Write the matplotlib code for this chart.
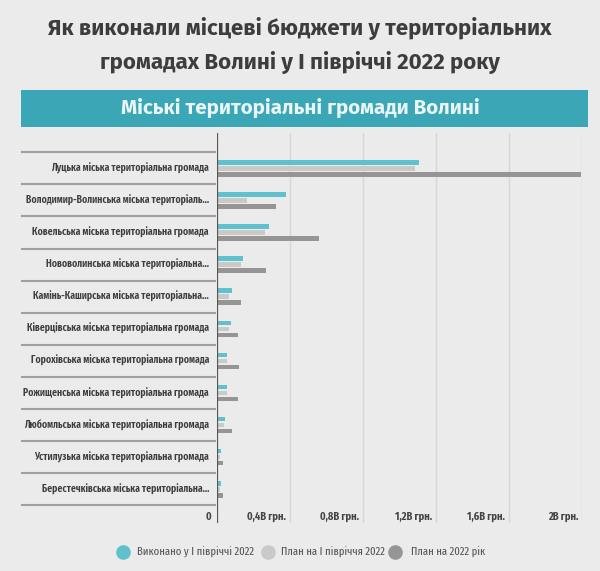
import numpy as np
import matplotlib
matplotlib.use("Agg")
import matplotlib.pyplot as plt
from matplotlib.lines import Line2D
from matplotlib.patches import Rectangle

COND = ['Fira Sans Condensed', 'DejaVu Sans']
XCOND = ['Fira Sans Extra Condensed', 'Fira Sans Condensed', 'DejaVu Sans']
WIDE = ['Fira Sans', 'DejaVu Sans']
plt.rcParams['font.family'] = COND

# data (billion UAH)
communities = [
    "Луцька міська територіальна громада",
    "Володимир-Волинська міська територіаль…",
    "Ковельська міська територіальна громада",
    "Нововолинська міська територіальна…",
    "Камінь-Каширська міська територіальна…",
    "Ківерцівська міська територіальна громада",
    "Горохівська міська територіальна громада",
    "Рожищенська міська територіальна громада",
    "Любомльська міська територіальна громада",
    "Устилузька міська територіальна громада",
    "Берестечківська міська територіальна…",
]
done_h1 = [1.107, 0.376, 0.287, 0.142, 0.080, 0.075, 0.055, 0.055, 0.046, 0.022, 0.020]
plan_h1 = [1.085, 0.166, 0.265, 0.133, 0.067, 0.064, 0.053, 0.053, 0.040, 0.014, 0.014]
plan_year = [1.995, 0.323, 0.557, 0.268, 0.133, 0.117, 0.122, 0.113, 0.084, 0.035, 0.035]
series_names = ["Виконано у І півріччі 2022", "План на І півріччя 2022", "План на 2022 рік"]
ticks = [0.4, 0.8, 1.2, 1.6, 2.0]
tick_labels = ["0,4B грн.", "0,8B грн.", "1,2B грн.", "1,6B грн.", "2B грн."]

bg = "#ebebeb"
colors = ["#5fc1cd", "#c9c9c9", "#959595"]
W, H = 600, 571

fig = plt.figure(figsize=(W/100, H/100), dpi=100, facecolor=bg)

# title
for yy, line in [(28, "Як виконали місцеві бюджети у територіальних"),
                 (63, "громадах Волині у І півріччі 2022 року")]:
    fig.text(0.5, 1 - yy/H, line, ha='center', va='center', fontsize=16,
             fontweight='bold', color='#3d3d3d', family=WIDE)

# banner
fig.patches.append(Rectangle((21/W, 1 - 127/H), 567/W, 37/H,
                             transform=fig.transFigure, facecolor="#3ba6b6",
                             edgecolor='none', zorder=0))
fig.text(0.5, 1 - 108/H, "Міські територіальні громади Волині",
         ha='center', va='center', fontsize=14.8, fontweight='bold',
         color='#eaf5f7', family=WIDE)

ax = fig.add_axes([217/W, (H - 523)/H, 365/W, 390/H])
ax.set_facecolor(bg)
n = len(communities)
y = np.arange(n)
h = 0.14
off = 0.187
ax.barh(y - off, done_h1, height=h, color=colors[0], zorder=3)
ax.barh(y, plan_h1, height=h, color=colors[1], zorder=3)
ax.barh(y + off, plan_year, height=h, color=colors[2], zorder=3)

ax.set_xlim(0, 2.0)
ax.set_ylim(11.05, -1.1)
for s in ax.spines.values():
    s.set_visible(False)
ax.set_xticks([])
ax.set_yticks([])

for t in ticks:
    ax.axvline(t, color="#d6d6d6", lw=1, zorder=1)
ax.axvline(0, color="#555555", lw=1.6, zorder=4)

# tick labels
ax.text(-0.03, 10.86, "0", ha='right', va='center', fontsize=7.5,
        fontweight='bold', color='#444444')
for t, lab in zip(ticks, tick_labels):
    ax.text(t - 0.02, 10.86, lab, ha='right', va='center', fontsize=7.5,
            fontweight='bold', color='#444444')

# row separators and category labels
trans = ax.get_yaxis_transform()
for b in np.arange(n + 1) - 0.5:
    ax.plot([-0.534, -0.005], [b, b], transform=trans, color="#a0a0a0",
            lw=1.5, clip_on=False)
for i, name in enumerate(communities):
    ax.text(-0.022, i, name, transform=trans, ha='right', va='center',
            fontsize=7.6, fontweight=600, color='#3d3d3d', family=XCOND)

# legend
legend_x = [(123, 137), (268, 281), (395, 411)]
for (cx, tx), c, name in zip(legend_x, colors, series_names):
    fig.add_artist(Line2D([cx/W], [1 - 552/H], marker='o', ls='', markersize=9.5,
                          color=c, transform=fig.transFigure))
    fig.text(tx/W, 1 - 552/H, name, ha='left', va='center', fontsize=8.3,
             color='#555555', family=XCOND)

fig.savefig("out.png", dpi=100, facecolor=bg)
